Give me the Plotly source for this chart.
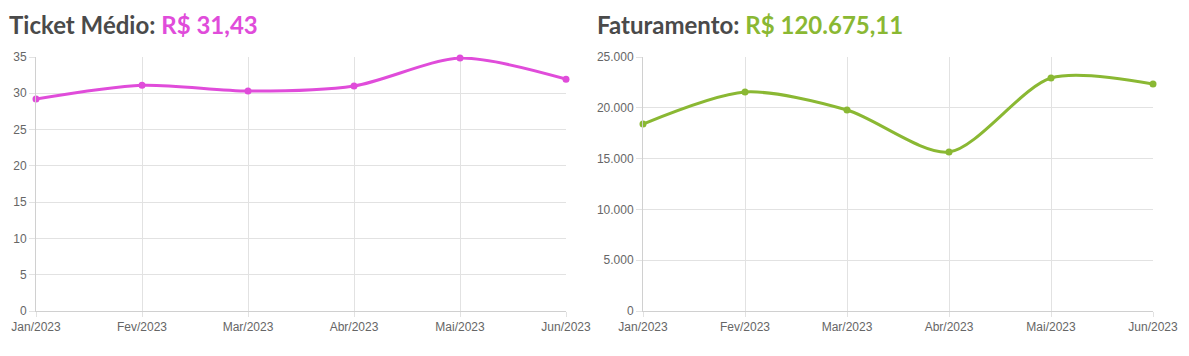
import plotly.graph_objects as go

months = ["Jan/2023", "Fev/2023", "Mar/2023", "Abr/2023", "Mai/2023", "Jun/2023"]
ticket_medio = [29.2, 31.1, 30.3, 31.0, 34.85, 31.95]
faturamento = [18400, 21550, 19780, 15650, 22930, 22340]
ticket_ticks = [0, 5, 10, 15, 20, 25, 30, 35]
fat_ticks = [0, 5000, 10000, 15000, 20000, 25000]

PINK = "#E04CDA"
GREEN = "#8AB833"
GRID = "#E2E2E2"
TICK_FONT = dict(family="Liberation Sans, Arial, sans-serif", size=12, color="#666666")

xs = list(range(len(months)))

fig = go.Figure()
fig.add_trace(go.Scatter(x=xs, y=ticket_medio, mode="lines+markers",
                         line=dict(color=PINK, width=3, shape="spline", smoothing=0.8),
                         marker=dict(size=7, color=PINK), xaxis="x", yaxis="y",
                         cliponaxis=False, hoverinfo="skip"))
fig.add_trace(go.Scatter(x=xs, y=faturamento, mode="lines+markers",
                         line=dict(color=GREEN, width=3, shape="spline", smoothing=0.8),
                         marker=dict(size=7, color=GREEN), xaxis="x2", yaxis="y2",
                         cliponaxis=False, hoverinfo="skip"))

# page body has an 8px margin; work in window pixel coords
OFF = 8
W, H = 1189 - OFF, 356 - OFF
def px(x):
    return (x - OFF) / W
def py(y):
    return 1 - (y - OFF) / H

ydom = [py(311), py(57)]

common_x = dict(range=[0, 5], tickvals=xs, ticktext=months, showgrid=True, gridcolor=GRID,
                gridwidth=1, ticks="outside", ticklen=5, tickcolor=GRID, showline=True,
                linecolor="#D0D0D0", linewidth=1, zeroline=False, tickfont=TICK_FONT,
                fixedrange=True, automargin=False)
common_y = dict(showgrid=True, gridcolor=GRID, gridwidth=1, ticks="outside", ticklen=6,
                tickcolor=GRID, showline=True, linecolor="#D0D0D0", linewidth=1,
                zeroline=False, tickfont=TICK_FONT, fixedrange=True, automargin=False)

fig.update_layout(
    width=W, height=H,
    margin=dict(l=0, r=0, t=0, b=0, pad=0),
    paper_bgcolor="white", plot_bgcolor="white",
    showlegend=False,
    separators=",.",
    xaxis=dict(domain=[px(36), px(566)], anchor="y", **common_x),
    yaxis=dict(domain=ydom, anchor="x", range=[0, 35], tickvals=ticket_ticks, **common_y),
    xaxis2=dict(domain=[px(643), px(1153)], anchor="y2", **common_x),
    yaxis2=dict(domain=ydom, anchor="x2", range=[0, 25000], tickvals=fat_ticks,
                tickformat=",d", **common_y),
    annotations=[
        dict(xref="paper", yref="paper", x=px(7), y=py(25), xanchor="left", yanchor="middle",
             showarrow=False,
             text="<b>Ticket Médio: <span style='color:%s'>R$ 31,43</span></b>" % PINK,
             font=dict(family="Lato, Open Sans, sans-serif", size=24, color="#4A4A4A")),
        dict(xref="paper", yref="paper", x=px(595), y=py(25), xanchor="left", yanchor="middle",
             showarrow=False,
             text="<b>Faturamento: <span style='color:%s'>R$ 120.675,11</span></b>" % GREEN,
             font=dict(family="Lato, Open Sans, sans-serif", size=24, color="#4A4A4A")),
    ],
)

fig.write_html("out.html")
